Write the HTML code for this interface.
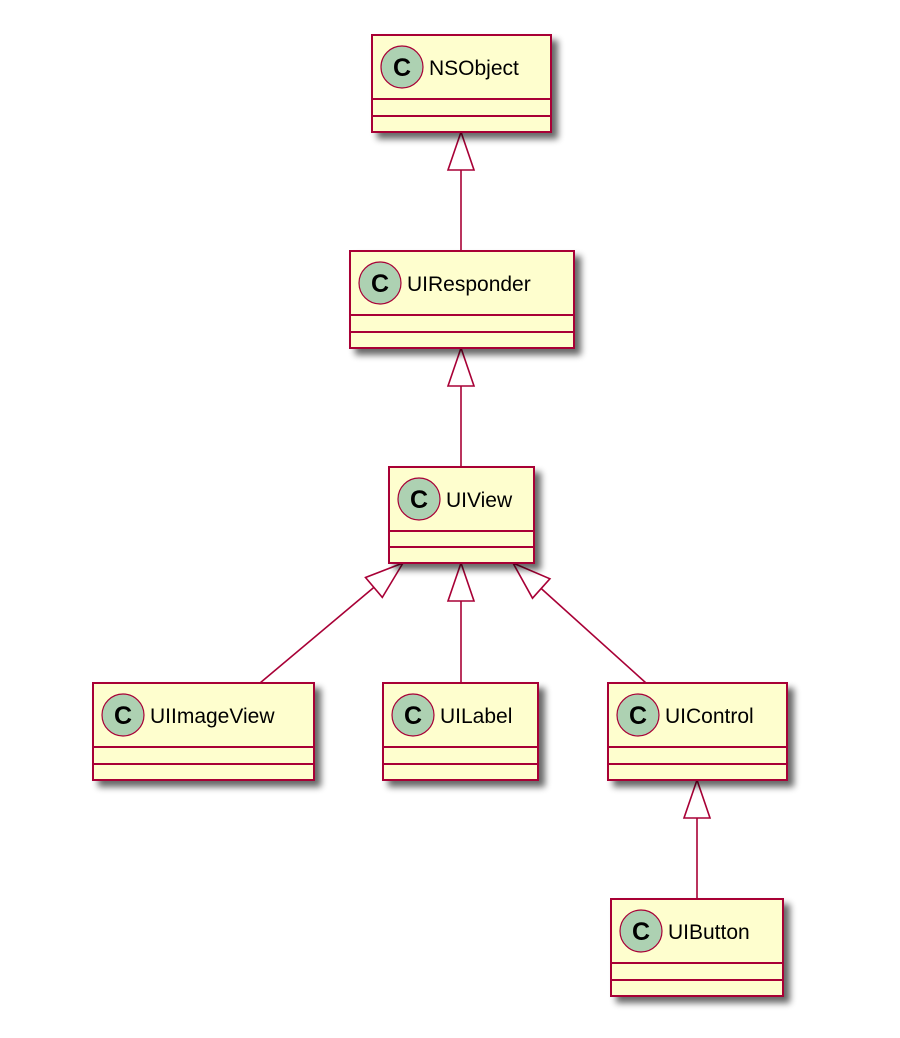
<!DOCTYPE html>
<html><head><style>body{margin:0;background:#fff}svg{display:block}</style></head>
<body>
<svg width="900" height="1038" xmlns="http://www.w3.org/2000/svg">
<defs>
<filter id="sh" x="-10%" y="-10%" width="130%" height="140%">
<feGaussianBlur in="SourceAlpha" stdDeviation="3.5"/>
<feOffset dx="6" dy="6" result="b"/>
<feComponentTransfer><feFuncA type="linear" slope="0.6"/></feComponentTransfer>
<feMerge><feMergeNode/><feMergeNode in="SourceGraphic"/></feMerge>
</filter>
</defs>
<g stroke="#a80036" stroke-width="1.6" fill="none">
<line x1="461" y1="170" x2="461" y2="251"/>
<polygon points="461,132 448,170 474,170" fill="#fff"/>
<line x1="461" y1="386" x2="461" y2="467"/>
<polygon points="461,348 448,386 474,386" fill="#fff"/>
<line x1="461" y1="601" x2="461" y2="683"/>
<polygon points="461,563 448,601 474,601" fill="#fff"/>
<line x1="260" y1="683" x2="373.9" y2="587.4"/>
<polygon points="403,563 382.3,597.4 365.5,577.5" fill="#fff"/>
<line x1="646" y1="683" x2="541.2" y2="588.5"/>
<polygon points="513,563 549.9,578.8 532.5,598.2" fill="#fff"/>
<line x1="697" y1="818" x2="697" y2="899"/>
<polygon points="697,780 684,818 710,818" fill="#fff"/>
</g>
<g font-family="Liberation Sans, sans-serif" font-size="21">
<g transform="translate(372,35)"><rect width="179" height="97" fill="#fefece" stroke="#a80036" stroke-width="2" filter="url(#sh)"/><line x1="0" y1="64" x2="179" y2="64" stroke="#a80036" stroke-width="2"/><line x1="0" y1="81" x2="179" y2="81" stroke="#a80036" stroke-width="2"/><circle cx="30" cy="32" r="21" fill="#add1b2" stroke="#a80036" stroke-width="1.2"/><text x="30" y="41" text-anchor="middle" font-weight="bold" font-size="25">C</text><text x="57" y="40">NSObject</text></g>
<g transform="translate(350,251)"><rect width="224" height="97" fill="#fefece" stroke="#a80036" stroke-width="2" filter="url(#sh)"/><line x1="0" y1="64" x2="224" y2="64" stroke="#a80036" stroke-width="2"/><line x1="0" y1="81" x2="224" y2="81" stroke="#a80036" stroke-width="2"/><circle cx="30" cy="32" r="21" fill="#add1b2" stroke="#a80036" stroke-width="1.2"/><text x="30" y="41" text-anchor="middle" font-weight="bold" font-size="25">C</text><text x="57" y="40">UIResponder</text></g>
<g transform="translate(389,467)"><rect width="145" height="96" fill="#fefece" stroke="#a80036" stroke-width="2" filter="url(#sh)"/><line x1="0" y1="64" x2="145" y2="64" stroke="#a80036" stroke-width="2"/><line x1="0" y1="80" x2="145" y2="80" stroke="#a80036" stroke-width="2"/><circle cx="30" cy="32" r="21" fill="#add1b2" stroke="#a80036" stroke-width="1.2"/><text x="30" y="41" text-anchor="middle" font-weight="bold" font-size="25">C</text><text x="57" y="40">UIView</text></g>
<g transform="translate(93,683)"><rect width="221" height="97" fill="#fefece" stroke="#a80036" stroke-width="2" filter="url(#sh)"/><line x1="0" y1="64" x2="221" y2="64" stroke="#a80036" stroke-width="2"/><line x1="0" y1="81" x2="221" y2="81" stroke="#a80036" stroke-width="2"/><circle cx="30" cy="32" r="21" fill="#add1b2" stroke="#a80036" stroke-width="1.2"/><text x="30" y="41" text-anchor="middle" font-weight="bold" font-size="25">C</text><text x="57" y="40">UIImageView</text></g>
<g transform="translate(383,683)"><rect width="155" height="97" fill="#fefece" stroke="#a80036" stroke-width="2" filter="url(#sh)"/><line x1="0" y1="64" x2="155" y2="64" stroke="#a80036" stroke-width="2"/><line x1="0" y1="81" x2="155" y2="81" stroke="#a80036" stroke-width="2"/><circle cx="30" cy="32" r="21" fill="#add1b2" stroke="#a80036" stroke-width="1.2"/><text x="30" y="41" text-anchor="middle" font-weight="bold" font-size="25">C</text><text x="57" y="40">UILabel</text></g>
<g transform="translate(608,683)"><rect width="179" height="97" fill="#fefece" stroke="#a80036" stroke-width="2" filter="url(#sh)"/><line x1="0" y1="64" x2="179" y2="64" stroke="#a80036" stroke-width="2"/><line x1="0" y1="81" x2="179" y2="81" stroke="#a80036" stroke-width="2"/><circle cx="30" cy="32" r="21" fill="#add1b2" stroke="#a80036" stroke-width="1.2"/><text x="30" y="41" text-anchor="middle" font-weight="bold" font-size="25">C</text><text x="57" y="40">UIControl</text></g>
<g transform="translate(611,899)"><rect width="172" height="97" fill="#fefece" stroke="#a80036" stroke-width="2" filter="url(#sh)"/><line x1="0" y1="64" x2="172" y2="64" stroke="#a80036" stroke-width="2"/><line x1="0" y1="81" x2="172" y2="81" stroke="#a80036" stroke-width="2"/><circle cx="30" cy="32" r="21" fill="#add1b2" stroke="#a80036" stroke-width="1.2"/><text x="30" y="41" text-anchor="middle" font-weight="bold" font-size="25">C</text><text x="57" y="40">UIButton</text></g>
</g>
</svg>
</body></html>
